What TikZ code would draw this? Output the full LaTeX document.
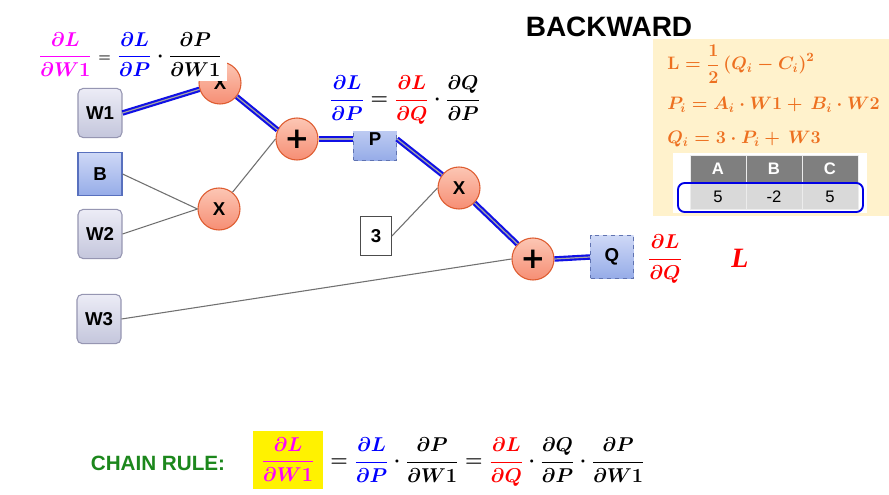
\documentclass[tikz,border=0pt]{standalone}
\usepackage{fix-cm}
\usepackage{amsmath}
\usepackage[no-math]{fontspec}
\setmainfont{Liberation Sans}
\newfontfamily\serifL{Liberation Serif}
\newfontfamily\plusfont{DejaVu Sans}
\definecolor{cblue}{RGB}{0,0,255}
\definecolor{cred}{RGB}{255,0,0}
\definecolor{cmag}{RGB}{255,0,255}
\definecolor{corange}{RGB}{237,112,32}
\definecolor{cgreen}{RGB}{28,135,28}
\definecolor{cream}{RGB}{255,242,204}
\definecolor{salT}{RGB}{252,198,180}
\definecolor{salB}{RGB}{246,142,116}
\definecolor{salD}{RGB}{222,92,48}
\definecolor{wT}{RGB}{236,236,246}
\definecolor{wB}{RGB}{196,198,220}
\definecolor{wD}{RGB}{150,150,178}
\definecolor{bT}{RGB}{206,216,246}
\definecolor{bB}{RGB}{150,172,232}
\definecolor{bD}{RGB}{88,112,190}
\definecolor{lineG}{RGB}{112,112,112}
\definecolor{edgeB}{RGB}{16,16,230}
\definecolor{hdrG}{RGB}{127,127,127}
\definecolor{datG}{RGB}{217,217,217}
\newcommand{\dd}{\partial}
\tikzset{
  opnode/.style={circle, minimum size=31.5pt, inner sep=0pt, draw=salD, line width=0.8pt,
    top color=salT, bottom color=salB, font=\bfseries\fontsize{14}{14}\selectfont},
  plusnode/.style={opnode, font=\plusfont\bfseries\fontsize{22}{22}\selectfont},
  wbox/.style={rectangle, rounded corners=4pt, minimum width=33pt, minimum height=37pt, inner sep=0pt,
    draw=wD, line width=0.8pt, top color=wT, bottom color=wB, font=\bfseries\fontsize{14}{14}\selectfont},
  bbox/.style={rectangle, minimum width=33pt, minimum height=32pt, inner sep=0pt,
    draw=bD, line width=0.8pt, top color=bT, bottom color=bB, font=\bfseries\fontsize{14}{14}\selectfont},
  dbox/.style={bbox, dashed, draw=bD!80!gray, minimum width=32.25pt, minimum height=32pt},
  cbox/.style={rectangle, minimum width=23.25pt, minimum height=29.25pt, inner sep=0pt,
    draw=black!70, line width=0.6pt, fill=white, font=\bfseries\fontsize{14}{14}\selectfont},
  bwd/.style={draw=edgeB, line width=1.6pt, double=black!35, double distance=0.9pt},
  fwd/.style={draw=lineG, line width=0.8pt},
  mathnode/.style={inner sep=0pt, font=\fontsize{15}{18}\selectfont\mathversion{bold}},
  orf/.style={anchor=west, inner sep=0pt, text=corange, font=\fontsize{13.5}{16}\selectfont\mathversion{bold}},
  hcell/.style={rectangle, minimum width=42pt, minimum height=21pt, inner sep=0pt, fill=hdrG,
    draw=white!85!gray, line width=0.5pt, text=white, font=\bfseries\fontsize{12.5}{12.5}\selectfont},
  dcell/.style={hcell, fill=datG, text=black, font=\fontsize{12.5}{12.5}\selectfont, minimum height=20pt},
}
\begin{document}
\begin{tikzpicture}[x=0.75pt,y=-0.75pt]
\path[use as bounding box, fill=white] (0,0) rectangle (889,495);

% right panel
\fill[cream] (653,39) rectangle (889,216);
\fill[white] (673,153) rectangle (867,213);
\node[hcell] (hA) at (718,169) {A};
\node[hcell] (hB) at (774,169) {B};
\node[hcell] (hC) at (830,169) {C};
\node[dcell] (dA) at (718,196.5) {5};
\node[dcell] (dB) at (774,196.5) {-2};
\node[dcell] (dC) at (830,196.5) {5};
\draw[cblue!90!black, line width=1.4pt, rounded corners=5pt] (678,183) rectangle (863,212);

\node[orf] (eqL) at (667,64) {$\displaystyle \mathbf{L}=\frac{1}{2}\left(Q_{i}-C_{i}\right)^{2}$};
\node[orf] (eqP) at (667,105) {$P_{i}=A_{i}\cdot W1+\,B_{i}\cdot W2$};
\node[orf] (eqQ) at (667,139) {$Q_{i}=3\cdot P_{i}+\,W3$};

\node[font=\bfseries\fontsize{21}{21}\selectfont, inner sep=0pt] (title) at (609,27) {BACKWARD};

% graph nodes
\node[wbox] (W1) at (100,113) {W1};
\node[bbox] (B) at (100,174) {B};
\node[wbox] (W2) at (100,234) {W2};
\node[wbox] (W3) at (99,319) {W3};
\node[opnode] (Xt) at (220,83) {X};
\node[opnode] (X1) at (219,209) {X};
\node[plusnode] (A1) at (297,139) {+};
\node[dbox] (P) at (375,139) {P};
\node[opnode] (X3) at (459,188) {X};
\node[cbox] (T3) at (376,236) {3};
\node[plusnode] (A2) at (533,259) {+};
\node[dbox] (Q) at (612,257) {Q};

% forward (thin) connectors
\draw[fwd] (B.east) -- (X1.west);
\draw[fwd] (W2.east) -- (X1.west);
\draw[fwd] (X1) -- (A1.west);
\draw[fwd] (T3.east) -- (X3.west);
\draw[fwd] (W3.east) -- (A2.west);

% backward (blue double) connectors
\draw[bwd] (W1.east) -- (Xt);
\draw[bwd] (Xt) -- (A1.155);
\draw[bwd] (A1.east) -- (P.west);
\draw[bwd] (P.east) -- (X3);
\draw[bwd] (X3) -- (A2);
\draw[bwd] (A2.east) -- (Q.west);

% formulas
\node[mathnode, fill=white, inner xsep=4pt, inner ysep=3pt, anchor=west] (f1) at (33,55)
  {$\displaystyle {\color{cmag}\frac{\dd L}{\dd W1}}\mathrel{\scriptstyle =}{\color{cblue}\frac{\dd L}{\dd P}}\cdot\frac{\dd P}{\dd W1}$};
\node[mathnode, fill=white, inner xsep=3pt, inner ysep=5pt] (f2) at (405,100)
  {$\displaystyle {\color{cblue}\frac{\dd L}{\dd P}}={\color{cred}\frac{\dd L}{\dd Q}}\cdot\frac{\dd Q}{\dd P}$};
\node[mathnode] (f3) at (665,259)
  {$\displaystyle {\color{cred}\frac{\dd L}{\dd Q}}$};
\node[inner sep=0pt, text=cred, font=\serifL\bfseries\itshape\fontsize{21}{21}\selectfont] (Lbig) at (740,258) {L};

% chain rule
\node[inner sep=0pt, text=cgreen, font=\bfseries\fontsize{15.5}{15.5}\selectfont] (cr) at (158,463) {CHAIN RULE:};
\node[mathnode, fill=yellow, minimum width=52.5pt, minimum height=44pt] (yb) at (288,460)
  {$\displaystyle {\color{cmag}\frac{\dd L}{\dd W1}}$};
\node[mathnode, anchor=west] (chain) at (330,462)
  {$\displaystyle ={\color{cblue}\frac{\dd L}{\dd P}}\cdot\frac{\dd P}{\dd W1}={\color{cred}\frac{\dd L}{\dd Q}}\cdot\frac{\dd Q}{\dd P}\cdot\frac{\dd P}{\dd W1}$};
\end{tikzpicture}
\end{document}
